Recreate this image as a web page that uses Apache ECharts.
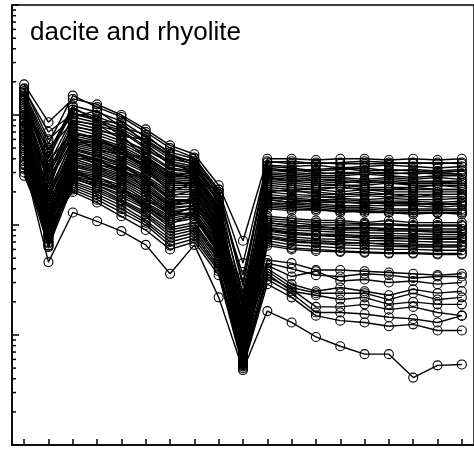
<!DOCTYPE html>
<html><head><meta charset="utf-8">
<script src="https://cdn.jsdelivr.net/npm/echarts@6/dist/echarts.min.js"></script>
<style>html,body{margin:0;padding:0;background:#fff}#c{width:474px;height:449px}</style>
</head><body><div id="c"></div>
<script>
const titleText = 'dacite and rhyolite';
const categories = ['1','2','3','4','5','6','7','8','9','10','11','12','13','14','15','16','17','18','19'];
const yMin = 0.1, yMax = 1000;
const minorTickValues = [0.2,0.3,0.4,0.5,0.6,0.7,0.8,0.9,2,3,4,5,6,7,8,9,20,30,40,50,60,70,80,90,200,300,400,500,600,700,800,900];

const groupA = [
 [190, 86, 140, 125, 100, 74, 53, 44, 23, 7.2, 40, 40, 39, 40, 40, 39, 40, 39, 40],
 [160, 55, 150, 118, 96, 70, 50, 41, 21, 4.5, 37, 38, 36, 37, 38, 37, 36, 37, 36],
 [150, 45, 122, 106, 88, 63, 46, 40, 20, 2.8, 35, 34, 35, 33, 34, 35, 34, 33, 34],
 [140, 40, 112, 96, 80, 58, 42, 38, 19, 2.0, 33, 31, 32, 33, 31, 32, 31, 30, 31],
 [172, 70, 102, 90, 75, 56, 40, 36, 18, 3.5, 32, 30, 29, 30, 30, 29, 30, 29, 29],
 [130, 35, 96, 85, 72, 52, 38, 34, 17, 1.3, 30, 29, 28, 28, 29, 28, 27, 28, 28],
 [120, 30, 90, 80, 70, 50, 36, 33, 16, 0.9, 29, 28, 27, 27, 26, 27, 26, 27, 26],
 [155, 50, 85, 75, 62, 46, 33, 31, 15, 2.4, 28, 27, 26, 26, 25, 26, 25, 25, 25],
 [110, 28, 80, 70, 58, 44, 32, 30, 14.5, 0.75, 27, 26, 25, 24, 25, 24, 24, 24, 24],
 [145, 22, 75, 66, 55, 42, 30, 29, 14, 1.7, 26, 25, 24, 23, 23, 24, 23, 23, 23],
 [125, 38, 70, 62, 52, 40, 29, 28, 13.5, 1.0, 25, 24, 23, 23, 22, 22, 22, 23, 22],
 [100, 26, 68, 60, 50, 38, 28, 27, 13, 0.7, 24, 23, 22, 22, 21, 21, 21, 21, 21]
];
const groupB = [
 [135, 33, 65, 58, 48, 37, 27, 26, 12.5, 1.1, 22, 21, 21, 20, 21, 20, 20, 20, 20],
 [95, 18, 62, 56, 46, 35, 26, 25, 12, 0.62, 21, 20, 20, 19, 19, 19, 19, 19, 19],
 [115, 24, 60, 54, 45, 34, 25, 24, 11.5, 2.2, 20, 19, 18.5, 18, 18.5, 18, 18, 18, 18],
 [105, 20, 58, 52, 44, 33, 24, 24, 11, 1.5, 19, 18, 18, 17.5, 17, 17.5, 17, 17, 17.5],
 [90, 15, 56, 50, 42, 32, 23, 23, 10.5, 0.9, 18, 17.5, 17, 17, 16.5, 16.5, 16.5, 16, 16.5],
 [85, 13, 54, 48, 40, 31, 22, 22, 10, 0.55, 17.5, 17, 16, 16, 16, 15.5, 15.5, 15.5, 15.5],
 [80, 12, 52, 46, 38, 30, 21, 21, 9.8, 1.8, 17, 16, 15.5, 15, 15, 15, 15, 14.5, 15],
 [75, 11, 50, 44, 36, 28, 20, 20, 9.5, 0.7, 16, 15.5, 15, 14.5, 14.5, 14, 14, 14, 14],
 [70, 10, 48, 42, 35, 27, 19, 19, 9.2, 1.2, 15.5, 15, 14.5, 14, 14, 13.5, 13.5, 13.5, 13.5],
 [65, 9.5, 46, 40, 34, 26, 18, 18, 9, 0.6, 15, 14.5, 14, 13.5, 13.5, 13, 13, 13, 13],
 [60, 9, 45, 39, 32, 25, 17, 17, 8.8, 0.85, 14.5, 14, 13.5, 13.5, 13, 13, 12.5, 13, 12.5]
];
const groupC = [
 [100, 16, 44, 38, 31, 24, 16, 17, 8.5, 0.62, 12, 11.5, 11, 11, 10.5, 11, 10.5, 10.5, 10.5],
 [88, 14, 42, 36, 30, 23, 15.5, 16, 8.2, 1.4, 11, 10.5, 10, 10, 10, 10, 9.8, 9.8, 9.8],
 [78, 12, 40, 34, 29, 22, 15, 16, 8, 0.58, 10.5, 10, 9.5, 9.5, 9.5, 9.3, 9.2, 9.2, 9.2],
 [72, 11, 38, 33, 28, 21, 14.5, 15, 7.8, 0.75, 10, 9.5, 9.2, 9, 9, 8.8, 8.8, 8.6, 8.6],
 [68, 10.5, 36, 32, 27, 20, 14, 15, 7.5, 2.0, 9.5, 9, 8.8, 8.6, 8.5, 8.4, 8.3, 8.2, 8.2],
 [62, 9.8, 34, 30, 25, 19, 13.5, 14, 7.2, 0.55, 9.2, 8.6, 8.3, 8.2, 8, 8, 7.9, 7.8, 7.8],
 [58, 9.2, 32, 29, 24, 18, 13, 14, 7, 0.95, 8.8, 8.2, 8, 7.8, 7.6, 7.5, 7.5, 7.4, 7.4],
 [55, 8.5, 30, 27, 23, 17, 12.5, 13, 6.8, 0.57, 8.4, 7.8, 7.5, 7.4, 7.2, 7.2, 7.1, 7, 7],
 [52, 8, 29, 26, 22, 16, 12, 13, 6.5, 1.6, 8, 7.4, 7.2, 7, 6.8, 6.8, 6.7, 6.6, 6.6],
 [48, 7.5, 28, 25, 21, 15.5, 11.5, 12.5, 6.2, 0.56, 7.6, 7, 6.8, 6.6, 6.5, 6.4, 6.3, 6.3, 6.3],
 [45, 7, 27, 24, 20, 15, 11, 12, 6, 0.68, 7.2, 6.6, 6.4, 6.2, 6.1, 6, 6, 5.9, 5.9],
 [42, 6.5, 26, 23, 19, 14.5, 10.5, 11.5, 5.8, 0.52, 6.8, 6.2, 6, 5.8, 5.7, 5.6, 5.6, 5.5, 5.5]
];
const groupF = [
 [175, 60, 95, 110, 78, 66, 44, 37, 16, 1.2, 34, 33, 31, 32, 33, 31, 32, 31, 32],
 [115, 42, 118, 88, 85, 55, 35, 32, 19, 0.9, 31, 32, 30, 29, 30, 30, 29, 30, 29],
 [98, 20, 88, 82, 60, 48, 37, 30, 17, 0.65, 27, 25, 26, 25, 24, 25, 24, 24, 25],
 [165, 32, 78, 72, 66, 40, 27, 31, 12, 1.9, 23, 22, 21, 22, 21, 21, 22, 21, 21],
 [88, 25, 66, 64, 45, 41, 30, 26, 15, 0.8, 20, 21, 19, 19, 20, 19, 18, 19, 19],
 [140, 17, 55, 58, 50, 33, 20, 24, 10, 0.6, 17, 16, 17, 16, 16, 16, 16, 15, 16],
 [78, 30, 64, 48, 44, 36, 26, 22, 12, 1.0, 18, 17, 16.5, 16.5, 15.5, 16, 15.5, 15.5, 15.5],
 [62, 14, 50, 42, 37, 25, 18, 21, 8, 0.58, 14, 13.5, 14, 13, 13.5, 13, 13, 12.8, 13],
 [92, 11, 40, 40, 30, 27, 17, 16, 9.5, 0.7, 11.5, 11, 10.5, 10.5, 10.2, 10.3, 10, 10, 10],
 [66, 19, 47, 35, 33, 21, 15, 18, 7, 0.53, 10.5, 9.8, 9.8, 9.2, 9.4, 9, 9, 8.8, 8.8],
 [54, 9.5, 35, 31, 26, 20, 12, 15, 7.8, 1.3, 9, 8.4, 8.1, 8, 7.8, 7.7, 7.6, 7.5, 7.6],
 [58, 13, 31, 28, 21, 17, 13.5, 12, 6, 0.6, 7.8, 7.2, 6.9, 6.8, 6.9, 6.6, 6.5, 6.4, 6.5],
 [44, 8, 33, 24, 22, 14, 10, 13, 5.5, 0.54, 6.5, 6.0, 5.8, 5.7, 5.6, 5.5, 5.5, 5.4, 5.4],
 [120, 48, 104, 93, 64, 60, 43, 35, 21, 3.0, 38, 36, 37, 36, 36, 36, 37, 36, 37]
];
const groupD = [
 [50, 7, 30, 25, 20, 15, 10.5, 11.5, 5.5, 0.8, 4.8, 4.5, 3.9, 3.9, 3.8, 3.7, 3.6, 3.5, 3.6],
 [46, 6.5, 28, 23, 18, 14, 9.5, 10.5, 5.2, 0.7, 4.5, 4.0, 3.5, 3.4, 3.6, 3.5, 3.3, 3.4, 3.4],
 [40, 8, 27, 22, 17, 13, 9, 10, 5, 1.2, 4.3, 3.4, 3.8, 3.1, 3.2, 3.0, 3.1, 2.9, 3.0],
 [38, 6.8, 25, 21, 16.5, 12.5, 8.5, 9.5, 4.8, 0.62, 4.0, 2.9, 2.5, 2.7, 2.5, 2.3, 2.6, 2.4, 2.5],
 [35, 7.5, 24, 20, 16, 12, 8, 9, 4.5, 0.9, 3.8, 2.7, 2.4, 2.4, 2.4, 2.1, 2.4, 2.1, 2.2],
 [33, 6.3, 23, 19, 15, 11, 7.5, 8.5, 4.2, 0.58, 3.6, 2.5, 2.3, 2.1, 2.2, 1.9, 2.0, 1.9, 1.9],
 [30, 9, 22, 18, 14, 10.5, 7, 8, 4, 0.55, 3.4, 2.6, 1.8, 1.8, 1.9, 1.7, 1.8, 1.6, 1.5],
 [28, 8.5, 21, 17, 13, 10, 6.5, 7.5, 3.8, 0.52, 3.2, 2.4, 1.6, 1.6, 1.55, 1.45, 1.4, 1.3, 1.5],
 [32, 10, 20, 16, 12, 9, 6, 7, 3.5, 0.5, 2.9, 2.2, 1.5, 1.35, 1.3, 1.2, 1.25, 1.1, 1.1]
];
const outlierLine = [36, 4.6, 13, 10.8, 8.8, 6.6, 3.6, 6.6, 2.2, 0.48, 1.65, 1.3, 0.96, 0.79, 0.67, 0.67, 0.41, 0.53, 0.54];

const allLines = [].concat(groupA, groupB, groupC, groupF, groupD, [outlierLine]);
const chart = echarts.init(document.getElementById('c'), null, {renderer: 'canvas'});
const lineSeries = allLines.map(vals => ({
  type: 'line', data: vals, symbol: 'circle', symbolSize: 9, showAllSymbol: true,
  lineStyle: {color: '#000', width: 1.4},
  itemStyle: {color: 'rgba(0,0,0,0)', borderColor: '#000', borderWidth: 1.1},
  emphasis: {disabled: true}, silent: true
}));
lineSeries.push({
  type: 'custom', silent: true, z: 10,
  data: minorTickValues.map(v => [0, v]), encode: {x: 0, y: 1},
  renderItem: (params, api) => {
    const p = api.coord([0, api.value(1)]);
    const x0 = params.coordSys.x;
    return {type: 'line', shape: {x1: x0, y1: p[1], x2: x0 + 4, y2: p[1]}, style: {stroke: '#000', lineWidth: 1.5}};
  }
});
chart.setOption({
  animation: false,
  backgroundColor: '#fff',
  title: {text: titleText, left: 30, top: 20, padding: 0,
    textStyle: {fontSize: 26, fontWeight: 'normal', color: '#000', fontFamily: 'Liberation Sans, Arial, sans-serif'}},
  grid: {left: 12, right: -11, top: 5, bottom: 4, show: true, borderColor: '#000', borderWidth: 1.5, backgroundColor: 'transparent'},
  xAxis: {type: 'category', data: categories, boundaryGap: true,
    axisLine: {lineStyle: {color: '#000', width: 1.5}},
    axisTick: {show: true, inside: true, alignWithLabel: true, length: 6, lineStyle: {color: '#000', width: 1.5}},
    axisLabel: {show: false}, splitLine: {show: false}},
  yAxis: {type: 'log', logBase: 10, min: yMin, max: yMax,
    axisLine: {show: true, lineStyle: {color: '#000', width: 1.5}},
    axisTick: {show: true, inside: true, length: 7, lineStyle: {color: '#000', width: 1.5}},
    axisLabel: {show: false}, splitLine: {show: false}, minorTick: {show: false}},
  series: lineSeries
});
</script></body></html>
